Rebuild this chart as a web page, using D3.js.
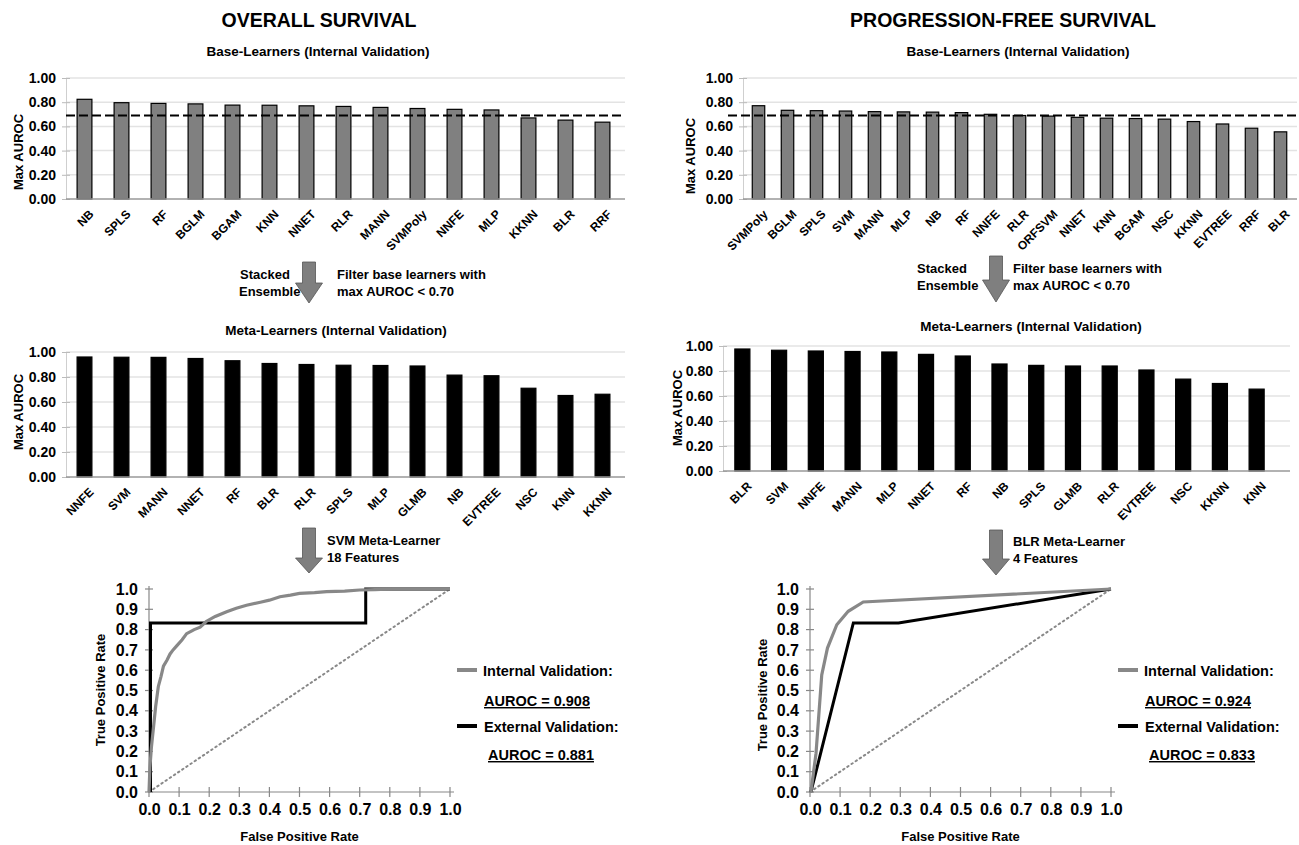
<!DOCTYPE html>
<html><head><meta charset="utf-8">
<script src="https://cdn.jsdelivr.net/npm/d3@7"></script>
<style>
body{margin:0;background:#fff;}
svg{display:block;font-family:Arial,"Liberation Sans",sans-serif;font-weight:bold;}
</style></head>
<body><svg id="c" width="1299" height="845"></svg>
<script>
// ---------- DATA ----------
const osBaseCats = ["NB","SPLS","RF","BGLM","BGAM","KNN","NNET","RLR","MANN","SVMPoly","NNFE","MLP","KKNN","BLR","RRF"];
const osBaseVals = [0.824,0.796,0.790,0.786,0.776,0.775,0.770,0.765,0.757,0.748,0.741,0.736,0.670,0.652,0.635];
const pfsBaseCats = ["SVMPoly","BGLM","SPLS","SVM","MANN","MLP","NB","RF","NNFE","RLR","ORFSVM","NNET","KNN","BGAM","NSC","KKNN","EVTREE","RRF","BLR"];
const pfsBaseVals = [0.771,0.733,0.730,0.727,0.722,0.720,0.718,0.714,0.700,0.690,0.685,0.675,0.668,0.665,0.660,0.640,0.620,0.585,0.555];
const osMetaCats = ["NNFE","SVM","MANN","NNET","RF","BLR","RLR","SPLS","MLP","GLMB","NB","EVTREE","NSC","KNN","KKNN"];
const osMetaVals = [0.960,0.958,0.957,0.948,0.930,0.908,0.900,0.894,0.892,0.888,0.815,0.810,0.710,0.652,0.662];
const pfsMetaCats = ["BLR","SVM","NNFE","MANN","MLP","NNET","RF","NB","SPLS","GLMB","RLR","EVTREE","NSC","KKNN","KNN"];
const pfsMetaVals = [0.976,0.966,0.960,0.956,0.952,0.933,0.920,0.856,0.845,0.840,0.840,0.808,0.735,0.700,0.655];
const threshold = 0.69;
const barTicks = [0,0.2,0.4,0.6,0.8,1.0];
const rocTicks = [0,0.1,0.2,0.3,0.4,0.5,0.6,0.7,0.8,0.9,1.0];

const osIntFpr = [0,0.003,0.008,0.014,0.022,0.031,0.040,0.048,0.060,0.070,0.080,0.092,0.110,0.125,0.150,0.170,0.190,0.220,0.258,0.290,0.324,0.370,0.400,0.435,0.470,0.500,0.550,0.590,0.650,0.700,0.750,0.810,0.900,1.0];
const osIntTpr = [0,0.120,0.220,0.305,0.420,0.520,0.570,0.620,0.650,0.680,0.700,0.720,0.750,0.780,0.800,0.812,0.840,0.865,0.888,0.905,0.920,0.935,0.945,0.962,0.970,0.978,0.982,0.987,0.990,0.995,0.997,1.0,1.0,1.0];
const osExtFpr = [0.005,0.005,0.72,0.72,1.0];
const osExtTpr = [0,0.833,0.833,1.0,1.0];
const pfsIntFpr = [0.003,0.020,0.039,0.058,0.089,0.127,0.177,1.0];
const pfsIntTpr = [0,0.190,0.577,0.709,0.824,0.890,0.936,1.0];
const pfsExtFpr = [0.003,0.144,0.294,1.0];
const pfsExtTpr = [0,0.833,0.833,1.0];

const svg = d3.select("#c");

function txt(x,y,s,size,anchor,extra){
  const t = svg.append("text").attr("x",x).attr("y",y).attr("font-size",size)
    .attr("text-anchor",anchor||"start").attr("fill","#000").text(s);
  if(extra) extra(t);
  return t;
}

// ---------- BAR CHART ----------
function barChart(cats, vals, o){
  const x = d3.scaleBand().domain(cats).range([o.x0,o.x1]).paddingInner(o.pad).paddingOuter(o.pad/2);
  const y = d3.scaleLinear().domain([0,1]).range([o.yb,o.yt]);
  const g = svg.append("g");
  // grid
  g.selectAll(".gr").data(barTicks.slice(1)).enter().append("line")
    .attr("x1",o.ax).attr("x2",o.gx1).attr("y1",d=>y(d)).attr("y2",d=>y(d))
    .attr("stroke","#e3e3e3").attr("stroke-width",1.5);
  // y axis
  const ya = d3.axisLeft(y).tickValues(barTicks).tickFormat(d3.format(".2f")).tickSize(4).tickPadding(6);
  const yg = g.append("g").attr("transform",`translate(${o.ax},0)`).call(ya);
  yg.select(".domain").attr("stroke","#cfcfcf");
  yg.selectAll(".tick line").attr("stroke","#bbb").attr("x2",4).attr("x1",-4);
  yg.selectAll(".tick text").attr("font-size",14).attr("font-family","Arial, 'Liberation Sans', sans-serif").attr("font-weight","bold").attr("fill","#000");
  // bars
  g.selectAll(".b").data(cats).enter().append("rect")
    .attr("x",d=>x(d)).attr("width",x.bandwidth())
    .attr("y",(d,i)=>y(vals[i])).attr("height",(d,i)=>y(0)-y(vals[i]))
    .attr("fill",o.fill).attr("stroke","#000").attr("stroke-width",1.2);
  // x axis line
  g.append("line").attr("x1",o.ax).attr("x2",o.gx1).attr("y1",y(0)).attr("y2",y(0)).attr("stroke","#999").attr("stroke-width",1.5);
  // x labels
  g.selectAll(".xl").data(cats).enter().append("text")
    .attr("transform",d=>`translate(${x(d)+x.bandwidth()/2+4},${y(0)+10}) rotate(-45)`)
    .attr("text-anchor","end").attr("dy","0.7em").attr("font-size",12).text(d=>d);
  // threshold
  if(o.thr!=null){
    g.append("line").attr("x1",o.thrX0).attr("x2",o.gx1).attr("y1",y(o.thr)).attr("y2",y(o.thr))
      .attr("stroke","#000").attr("stroke-width",2).attr("stroke-dasharray","9,4");
  }
  // y title
  txt(0,0,"Max AUROC",13,"middle",t=>t.attr("transform",`translate(${o.ytx},${o.yty}) rotate(-90)`).attr("dy","0.35em"));
}

barChart(osBaseCats, osBaseVals, {x0:66,x1:621,ax:66,gx1:625,yt:78,yb:199,pad:0.6,fill:"#808080",thr:threshold,thrX0:66,ytx:18,yty:152});
barChart(pfsBaseCats, pfsBaseVals, {x0:744,x1:1295,ax:743,gx1:1297,yt:78,yb:199,pad:0.57,fill:"#808080",thr:threshold,thrX0:728,ytx:690,yty:156});
barChart(osMetaCats, osMetaVals, {x0:66,x1:621,ax:66,gx1:625,yt:352,yb:477,pad:0.6,fill:"#000",thr:null,ytx:18,yty:412});
barChart(pfsMetaCats, pfsMetaVals, {x0:724,x1:1275,ax:723,gx1:1290,yt:346,yb:471,pad:0.59,fill:"#000",thr:null,ytx:677,yty:408});

// ---------- TITLES ----------
txt(319,27,"OVERALL SURVIVAL",19.5,"middle");
txt(1003,27,"PROGRESSION-FREE SURVIVAL",19.5,"middle");
txt(318,56,"Base-Learners (Internal Validation)",13.5,"middle");
txt(1018,56,"Base-Learners (Internal Validation)",13.5,"middle");
txt(336,335,"Meta-Learners (Internal Validation)",13.5,"middle");
txt(1031,331,"Meta-Learners (Internal Validation)",13.5,"middle");

// ---------- ARROWS ----------
function arrow(cx,top,headY,tip){
  const sw=6.5, hw=13.5;
  svg.append("path").attr("d",`M${cx-sw},${top}L${cx+sw},${top}L${cx+sw},${headY}L${cx+hw},${headY}L${cx},${tip}L${cx-hw},${headY}L${cx-sw},${headY}Z`)
    .attr("fill","#7f7f7f").attr("stroke","#555").attr("stroke-width",0.8);
}
arrow(309,262,283,303);
txt(240,279,"Stacked",13,"start"); txt(239,296,"Ensemble",13,"start");
txt(337,279,"Filter base learners with",13,"start"); txt(337,296,"max AUROC < 0.70",13,"start");
arrow(996,256,280,302);
txt(917,273,"Stacked",13,"start"); txt(917,290,"Ensemble",13,"start");
txt(1013,273,"Filter base learners with",13,"start"); txt(1013,290,"max AUROC < 0.70",13,"start");
arrow(309,528,558,573);
txt(327,545,"SVM Meta-Learner",13,"start"); txt(327,562,"18 Features",13,"start");
arrow(996,530,559,575);
txt(1013,546,"BLR Meta-Learner",13,"start"); txt(1013,563,"4 Features",13,"start");

// ---------- ROC ----------
function roc(o, intF, intT, extF, extT){
  const x = d3.scaleLinear().domain([0,1]).range([o.x0,o.x1]);
  const y = d3.scaleLinear().domain([0,1]).range([o.yb,o.yt]);
  const g = svg.append("g");
  // axes
  const xa = d3.axisBottom(x).tickValues(rocTicks).tickFormat(d3.format(".1f")).tickSize(0).tickPadding(12);
  const xg = g.append("g").attr("transform",`translate(0,${o.yb})`).call(xa);
  xg.select(".domain").remove();
  g.append("line").attr("x1",o.x0).attr("x2",o.x1+4).attr("y1",o.yb).attr("y2",o.yb).attr("stroke","#888").attr("stroke-width",1.2);
  g.selectAll(".xt").data(rocTicks).enter().append("line").attr("x1",d=>x(d)).attr("x2",d=>x(d))
    .attr("y1",o.yb-5).attr("y2",o.yb+5).attr("stroke","#888").attr("stroke-width",1.2);
  const ya = d3.axisLeft(y).tickValues(rocTicks).tickFormat(d3.format(".1f")).tickSize(0).tickPadding(11);
  const yg = g.append("g").attr("transform",`translate(${o.x0},0)`).call(ya);
  yg.select(".domain").remove();
  g.append("line").attr("x1",o.x0).attr("x2",o.x0).attr("y1",o.yt-3).attr("y2",o.yb).attr("stroke","#888").attr("stroke-width",1.2);
  g.selectAll(".yt").data(rocTicks).enter().append("line").attr("x1",o.x0-4).attr("x2",o.x0+4)
    .attr("y1",d=>y(d)).attr("y2",d=>y(d)).attr("stroke","#888").attr("stroke-width",1.2);
  [xg,yg].forEach(a=>a.selectAll(".tick text").attr("font-size",16).attr("font-family","Arial, 'Liberation Sans', sans-serif").attr("font-weight","bold").attr("fill","#000"));
  // diagonal
  g.append("line").attr("x1",x(0)).attr("y1",y(0)).attr("x2",x(1)).attr("y2",y(1))
    .attr("stroke","#888").attr("stroke-width",2).attr("stroke-dasharray","1.5,3.5").attr("stroke-linecap","round");
  const line = d3.line().x(d=>x(d[0])).y(d=>y(d[1]));
  g.append("path").attr("d",line(extF.map((f,i)=>[f,extT[i]]))).attr("fill","none").attr("stroke","#000").attr("stroke-width",3);
  g.append("path").attr("d",line(intF.map((f,i)=>[f,intT[i]]))).attr("fill","none").attr("stroke","#888").attr("stroke-width",3.2);
  // titles
  txt((o.x0+o.x1)/2,841,"False Positive Rate",13,"middle");
  txt(0,0,"True Positive Rate",13,"middle",t=>t.attr("transform",`translate(${o.ytx},${o.yty}) rotate(-90)`).attr("dy","0.35em"));
  // legend
  const L=o.lx;
  g.append("line").attr("x1",L).attr("x2",L+20).attr("y1",670).attr("y2",670).attr("stroke","#888").attr("stroke-width",4);
  txt(L+26,676,"Internal Validation:",14.5,"start");
  txt(L+27,706,o.intLabel,14.5,"start",t=>t.attr("text-decoration","underline"));
  g.append("line").attr("x1",L).attr("x2",L+20).attr("y1",726).attr("y2",726).attr("stroke","#000").attr("stroke-width",4);
  txt(L+27,732,"External Validation:",14.5,"start");
  txt(L+31,760,o.extLabel,14.5,"start",t=>t.attr("text-decoration","underline"));
}
roc({x0:149,x1:450,yt:589,yb:792,ytx:100,yty:690,lx:457,intLabel:"AUROC = 0.908",extLabel:"AUROC = 0.881"},osIntFpr,osIntTpr,osExtFpr,osExtTpr);
roc({x0:810,x1:1111,yt:589,yb:792,ytx:762,yty:695,lx:1118,intLabel:"AUROC = 0.924",extLabel:"AUROC = 0.833"},pfsIntFpr,pfsIntTpr,pfsExtFpr,pfsExtTpr);
</script></body></html>
